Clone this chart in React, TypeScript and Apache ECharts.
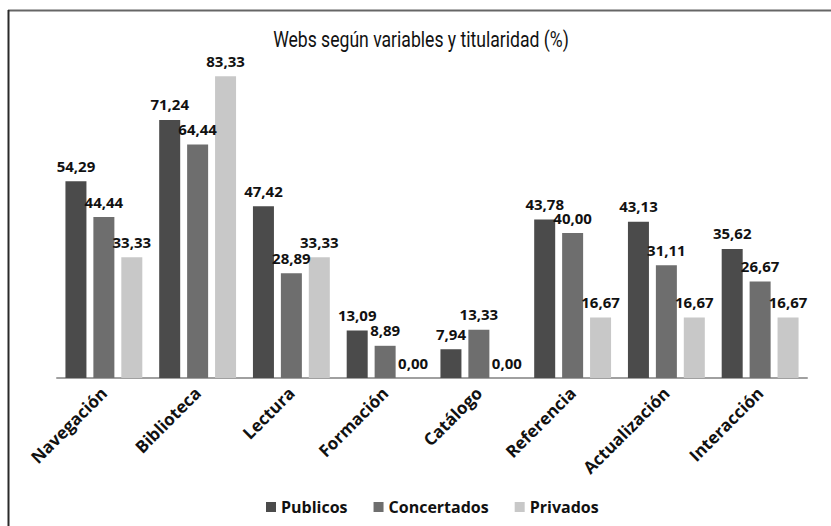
import React, { useEffect, useRef } from "react";
import * as echarts from "echarts";

const categories = ["Navegación", "Biblioteca", "Lectura", "Formación", "Catálogo", "Referencia", "Actualización", "Interacción"];
const publicos = [54.29, 71.24, 47.42, 13.09, 7.94, 43.78, 43.13, 35.62];
const concertados = [44.44, 64.44, 28.89, 8.89, 13.33, 40.0, 31.11, 26.67];
const privados = [33.33, 83.33, 33.33, 0.0, 0.0, 16.67, 16.67, 16.67];
const seriesNames = ["Publicos", "Concertados", "Privados"];
const colors = ["#4b4b4b", "#6e6e6e", "#c8c8c8"];
const titleText = "Webs según variables y titularidad (%)";

export default function App() {
  const ref = useRef<HTMLDivElement>(null);
  useEffect(() => {
    const chart = echarts.init(ref.current!, null, { renderer: "svg" });
    const fmt = (p: any) => Number(p.value).toFixed(2).replace(".", ",");
    const mk = (name: string, data: number[], color: string) => ({
      name,
      type: "bar",
      data,
      barWidth: 21,
      barGap: "33%",
      itemStyle: { color },
      label: {
        show: true,
        position: "top",
        distance: 8,
        formatter: fmt,
        fontFamily: "Open Sans",
        fontWeight: "bold",
        fontSize: 15,
        color: "#111111",
      },
    });
    chart.setOption({
      animation: false,
      backgroundColor: "#ffffff",
      legend: {
        bottom: 6,
        left: 261,
        itemWidth: 10,
        itemHeight: 10,
        itemGap: 26,
        icon: "rect",
        data: seriesNames,
        textStyle: { fontFamily: "Open Sans", fontWeight: "bold", fontSize: 16, color: "#111111" },
      },
      grid: { left: 57, right: 24, top: 52, bottom: 148, containLabel: false },
      xAxis: {
        type: "category",
        data: categories,
        axisLine: { show: true, lineStyle: { color: "#a0a0a0", width: 2 } },
        axisTick: { show: false },
        axisLabel: {
          rotate: 45,
          margin: 12,
          interval: 0,
          fontFamily: "Open Sans",
          fontWeight: "bold",
          fontSize: 17,
          color: "#111111",
        },
      },
      yAxis: {
        type: "value",
        min: 0,
        max: 90,
        show: false,
        splitLine: { show: false },
      },
      graphic: [
        { type: "line", shape: { x1: 8, y1: 10.5, x2: 831, y2: 10.5 }, style: { stroke: "#666666", lineWidth: 2 } },
        { type: "line", shape: { x1: 8.5, y1: 10, x2: 8.5, y2: 526 }, style: { stroke: "#2a2a2a", lineWidth: 2 } },
        {
          type: "text",
          x: 421,
          y: 40,
          scaleX: 0.8,
          style: {
            text: titleText,
            fontFamily: "Roboto",
            fontSize: 22,
            fontWeight: "normal",
            fill: "#111111",
            textAlign: "center",
            textVerticalAlign: "middle",
          },
        },
      ],
      series: [
        mk(seriesNames[0], publicos, colors[0]),
        mk(seriesNames[1], concertados, colors[1]),
        mk(seriesNames[2], privados, colors[2]),
      ],
    });
    return () => chart.dispose();
  }, []);
  return <div ref={ref} style={{ position: "fixed", left: 0, top: 0, width: 831, height: 526 }} />;
}
